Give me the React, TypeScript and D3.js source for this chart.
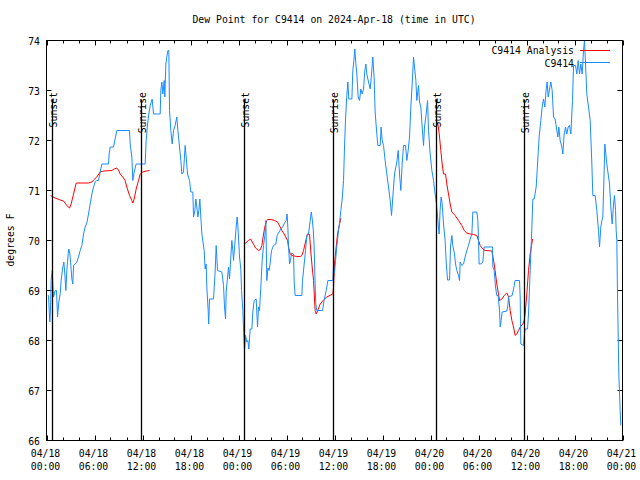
import React from "react";
import * as d3 from "d3";

const titleText = "Dew Point for C9414 on 2024-Apr-18 (time in UTC)";
const yLabelText = "degrees F";
const yTicks = [66, 67, 68, 69, 70, 71, 72, 73, 74];
const xTickHours = [0, 6, 12, 18, 24, 30, 36, 42, 48, 54, 60, 66, 72];
const xTickDates = ["04/18", "04/18", "04/18", "04/18", "04/19", "04/19", "04/19", "04/19", "04/20", "04/20", "04/20", "04/20", "04/21"];
const xTickTimes = ["00:00", "06:00", "12:00", "18:00", "00:00", "06:00", "12:00", "18:00", "00:00", "06:00", "12:00", "18:00", "00:00"];
const sunsetHours = [0.73, 24.73, 48.73];
const sunriseHours = [11.85, 35.85, 59.73];
const legendNames = ["C9414 Analysis", "C9414"];

// hours since 2024-04-18 00:00 UTC, dew point F
const observed: [number, number][] = [
  [0.15,68.9],[0.25,68.9],[0.33,68.63],[0.42,68.37],[0.5,68.63],[0.58,69.2],[0.72,69.4],[0.8,69.1],[0.88,68.87],[1.08,69.0],[1.25,69.0],[1.38,68.47],[1.54,68.77],[1.71,68.93],[1.83,69.2],[2.0,69.43],[2.17,69.57],[2.29,69.33],[2.42,69.0],[2.54,69.4],[2.71,69.73],[2.79,69.83],[2.92,69.73],[3.04,69.5],[3.17,69.23],[3.29,69.13],[3.38,69.5],[3.58,69.53],[3.79,69.57],[4.0,69.67],[4.21,69.8],[4.42,69.9],[4.63,70.13],[4.83,70.27],[5.04,70.35],[5.25,70.53],[5.46,70.73],[5.67,70.93],[5.88,71.07],[6.08,71.17],[6.29,71.2],[6.5,71.2],[6.71,71.37],[6.92,71.53],[7.75,71.53],[7.83,71.73],[7.96,71.87],[8.38,71.87],[8.58,72.03],[8.79,72.2],[10.38,72.2],[10.46,71.93],[10.67,71.67],[10.79,71.2],[10.96,71.37],[11.21,71.53],[12.33,71.53],[12.46,72.0],[12.63,72.33],[12.79,72.53],[12.96,72.7],[13.21,72.83],[13.38,72.53],[14.21,72.53],[14.29,73.0],[14.42,73.17],[14.54,72.93],[14.71,73.2],[14.79,72.87],[14.92,73.53],[15.04,73.67],[15.17,73.8],[15.29,73.8],[15.38,72.6],[15.54,72.2],[15.71,71.93],[15.88,72.2],[16.08,72.3],[16.29,72.47],[16.42,72.2],[16.63,71.87],[16.79,71.6],[16.92,71.33],[17.13,71.37],[17.33,71.9],[17.46,71.67],[17.63,71.33],[17.88,71.2],[18.04,70.97],[18.29,70.97],[18.38,70.47],[18.54,70.6],[18.67,70.83],[18.79,70.67],[18.92,70.47],[19.04,70.6],[19.17,70.83],[19.29,70.47],[19.42,70.13],
  [19.71,69.8],[19.83,69.43],[19.96,69.53],[20.04,69.07],[20.21,68.6],[20.27,68.33],[20.38,68.83],[20.88,68.83],[21.08,69.37],[21.21,69.9],[21.38,69.4],[21.92,69.37],[22.13,69.1],[22.25,68.67],[22.38,68.43],[22.46,68.97],[22.75,69.47],[22.88,69.23],[23.04,69.67],[23.17,70.0],[23.29,69.8],[23.38,69.6],[23.54,69.93],[23.71,70.27],[23.83,70.47],[23.92,70.3],[24.13,69.67],[24.29,69.43],[24.38,69.0],[24.54,68.6],[24.67,68.07],[24.75,67.8],[24.88,68.1],[25.04,67.97],[25.17,68.0],[25.29,67.83],[25.46,68.23],[25.67,68.23],[25.79,68.57],[25.96,68.8],[26.21,68.83],[26.38,68.27],[26.5,68.67],[26.63,68.6],[26.79,69.07],[26.96,69.6],[27.13,69.9],[27.29,70.1],[27.42,70.4],[27.54,69.2],[27.67,69.45],[27.83,69.4],[27.96,69.55],[28.13,69.8],[28.38,69.9],[28.67,69.93],[28.83,70.1],[29.17,70.2],[29.5,70.27],[29.75,70.35],[29.96,70.4],[30.08,70.53],[30.17,70.25],[30.25,69.9],[30.38,69.53],[30.5,69.6],[30.63,69.75],[30.88,69.73],[30.96,69.17],[31.08,68.9],[31.92,68.9],[32.0,69.2],[32.21,69.53],[32.38,69.8],[32.54,70.1],[32.75,70.13],[32.96,70.4],[33.1,70.57],[33.2,70.45],[33.35,70.2],[33.45,69.9],[33.55,69.3],[33.65,68.75],[33.79,68.6],[34.5,68.6],[34.7,68.8],[34.96,69.0],[35.17,69.2],[35.79,69.2],[35.88,69.47],[36.0,69.35],[36.13,69.6],[36.3,69.9],[36.5,70.2],[36.63,70.35],
  [36.79,70.6],[36.96,70.83],[37.13,71.2],[37.25,71.87],[37.38,72.43],[37.54,72.9],[37.67,73.17],[37.79,72.83],[38.17,72.83],[38.29,73.4],[38.42,73.6],[38.54,73.83],[38.67,73.53],[38.79,73.33],[38.96,72.87],[39.13,72.8],[39.29,73.03],[39.46,72.93],[39.63,73.03],[39.79,73.4],[39.92,73.53],[40.04,73.33],[40.25,73.17],[40.46,73.03],[40.63,73.33],[40.79,73.67],[40.96,73.23],[41.08,72.57],[41.29,72.13],[41.42,71.9],[41.71,71.9],[41.83,72.27],[41.96,72.0],[42.13,71.9],[42.33,71.6],[42.54,71.33],[42.75,71.07],[42.96,70.8],[43.13,70.5],[43.29,70.87],[43.5,71.33],[43.79,71.57],[43.96,71.8],[44.13,71.33],[44.29,71.0],[44.46,71.53],[44.63,71.9],[44.88,71.9],[45.04,71.6],[45.21,71.8],[45.38,72.07],[45.54,72.67],[45.71,73.13],[45.88,73.67],[46.0,73.47],[46.17,73.2],[46.29,72.8],[46.5,73.1],[46.63,72.77],[46.79,72.67],[46.96,72.27],[47.13,71.9],[47.25,72.27],[47.46,72.53],[47.63,72.8],[47.75,72.2],[47.96,71.73],[48.17,71.4],[48.38,71.2],[48.58,70.93],[48.75,70.73],[48.96,70.33],[49.08,70.13],[49.2,70.6],[49.33,70.87],[49.46,70.73],[49.63,70.33],[49.83,70.0],[49.96,69.57],[50.13,69.21],[50.38,69.21],[50.5,69.87],[50.67,70.1],[50.79,69.9],[51.0,69.73],[51.13,69.53],[51.29,69.4],[51.5,69.3],[51.63,69.2],[51.71,69.57],[51.92,69.5],[52.13,69.53],[52.33,69.67],[52.54,69.8],[52.75,69.9],[52.96,70.03],[53.17,70.13],[53.29,70.57],[53.79,70.57],[53.92,70.4],[54.0,70.0],[54.08,69.53],[54.29,69.53],[54.54,69.57],[54.71,69.87],[55.75,69.87],[55.79,69.47],[55.96,69.4],[56.13,69.07],[56.29,68.9],[56.46,68.9],[56.63,68.6],[56.71,68.27],[56.83,68.4],[56.96,68.57],[57.54,68.59],[57.67,68.7],[57.75,68.87],[58.21,68.9],[58.38,69.03],[58.58,69.2],[59.13,69.2],[59.21,68.87],[59.29,67.93],[59.63,67.9],[59.71,68.07],[59.83,68.23],[60.13,68.23],[60.25,68.53],[60.38,69.07],[60.54,69.73],[60.67,70.27],[60.79,70.83],[60.96,70.83],
  [61.21,71.07],[61.38,71.53],[61.58,72.07],[61.79,72.4],[61.96,72.67],[62.13,72.83],[62.29,72.67],[62.46,73.03],[62.58,73.17],[62.71,72.87],[62.88,73.03],[63.04,73.17],[63.21,73.0],[63.38,72.47],[63.58,72.43],[63.79,72.2],[63.92,72.07],[64.04,72.27],[64.21,72.0],[64.42,71.87],[64.54,71.73],[64.71,72.13],[64.88,72.27],[65.04,72.13],[65.21,72.27],[65.38,72.3],[65.54,72.13],[65.75,72.8],[65.88,73.5],[66.13,73.5],[66.29,73.33],[66.46,73.6],[66.63,73.33],[66.79,73.53],[66.96,73.33],[67.13,73.8],[67.25,74.0],[67.38,73.53],[67.54,72.93],[67.75,72.67],[67.96,72.4],[68.17,71.53],[68.29,70.9],[68.58,70.9],[68.79,70.6],[69.0,70.2],[69.13,69.87],[69.29,70.27],[69.42,70.4],[69.54,70.47],[69.71,71.4],[69.79,71.93],[69.92,71.73],[70.04,71.53],[70.21,71.33],[70.38,71.13],[70.54,70.67],[70.71,70.33],[70.88,70.73],[71.0,70.9],[71.13,70.6],[71.21,70.2],[71.29,70.0],[71.38,68.87],[71.54,67.33],[71.71,66.6],[71.79,66.3]
];

const analysisNight1: [number, number][] = [
  [0.5,70.9],[1.08,70.85],[1.71,70.81],[2.13,70.79],[2.54,70.7],[2.88,70.65],[3.08,70.73],[3.38,70.93],[3.71,71.15],[4.83,71.15],[5.25,71.15],[5.67,71.17],[5.88,71.21],[6.29,71.27],[6.71,71.37],[7.13,71.39],[8.17,71.4],[8.46,71.43],[8.79,71.45],[9.0,71.41],[9.21,71.33],[9.54,71.27],[9.83,71.2],[10.04,71.07],[10.38,70.9],[10.67,70.8],[10.79,70.75],[10.96,70.83],[11.21,71.03],[11.5,71.2],[11.71,71.33],[12.04,71.37],[12.46,71.39],[12.88,71.4]
];
const analysisNight2: [number, number][] = [
  [24.73,69.93],[25.25,70.0],[25.5,70.03],[25.8,69.95],[26.13,69.85],[26.5,69.8],[26.75,69.82],[26.92,69.9],[27.13,70.13],[27.33,70.3],[27.54,70.4],[27.67,70.42],[28.1,70.42],[28.5,70.4],[28.88,70.37],[29.21,70.27],[29.42,70.2],[29.71,70.13],[30.13,70.0],[30.25,69.87],[30.46,69.73],[30.67,69.7],[31.29,69.68],[31.71,69.68],[31.92,69.7],[32.13,69.8],[32.46,70.03],[32.63,70.13],[32.88,70.12],[33.04,69.77],[33.21,69.47],[33.38,69.2],[33.58,68.6],[33.71,68.53],[33.9,68.6],[34.21,68.73],[34.63,68.81],[35.04,68.87],[35.79,68.93],[35.88,69.07],[36.0,69.53],[36.21,69.87],[36.38,70.13],[36.63,70.33],[36.8,70.45]
];
const analysisNight3: [number, number][] = [
  [48.73,72.41],[48.96,72.3],[49.13,72.07],[49.29,71.8],[49.46,71.53],[49.63,71.33],[49.88,71.33],[50.04,71.13],[50.25,70.93],[50.46,70.73],[50.67,70.57],[51.08,70.5],[51.5,70.4],[51.92,70.3],[52.21,70.2],[52.54,70.15],[52.96,70.13],[53.38,70.12],[53.79,70.1],[54.0,70.0],[54.21,69.9],[54.54,69.83],[54.83,69.8],[55.67,69.79],[55.96,69.53],[56.13,69.33],[56.29,69.13],[56.5,68.93],[56.63,68.8],[56.92,68.83],[57.21,68.9],[57.54,68.95],[57.75,68.88],[57.96,68.6],[58.17,68.4],[58.38,68.27],[58.58,68.1],[58.79,68.13],[59.0,68.2],[59.21,68.27],[59.54,68.33],[59.71,68.4],[59.83,68.53],[60.04,68.93],[60.25,69.4],[60.46,69.73],[60.63,69.9],[60.75,70.03]
];

const RED = "#ff0000";
const BLUE = "#1a8cff";
const FONT = "'DejaVu Sans Mono', monospace";
const CH = 5.9;

function T(props: any) {
  const { x, y, text, anchor = "start", rotate = 0 } = props;
  const tr = rotate ? `rotate(${rotate} ${x} ${y})` : undefined;
  return (
    <text x={x} y={y} fontFamily={FONT} fontSize={11} fill="#000" textAnchor={anchor}
      textLength={text.length * CH} lengthAdjust="spacingAndGlyphs" transform={tr}>{text}</text>
  );
}

export default function App() {
  const x = d3.scaleLinear().domain([0, 72]).range([46.5, 622.5]);
  const y = d3.scaleLinear().domain([66, 74]).range([440.5, 40.5]);
  const line = d3.line<[number, number]>().x(d => x(d[0])).y(d => y(d[1]));
  const minorHours = d3.range(2, 72, 2).filter(h => h % 6 !== 0);
  const [x0, x1] = x.range();
  const [yb, yt] = y.range();
  const eventTop = y(72.82);
  const events = [
    ...sunsetHours.map(h => ({ h, label: "Sunset" })),
    ...sunriseHours.map(h => ({ h, label: "Sunrise" })),
  ];
  return (
    <svg width={640} height={480} style={{ position: "absolute", left: 0, top: 0, background: "#fff" }}>
      <rect x={0} y={0} width={640} height={480} fill="#fff" />
      <T x={334} y={23} text={titleText} anchor="middle" />
      {/* ticks */}
      <g stroke="#000" strokeWidth={1}>
        {xTickHours.map(h => (
          <g key={"M" + h}>
            <line x1={Math.round(x(h)) + 0.5} x2={Math.round(x(h)) + 0.5} y1={yb} y2={yb - 5} />
            <line x1={Math.round(x(h)) + 0.5} x2={Math.round(x(h)) + 0.5} y1={yt} y2={yt + 5} />
          </g>
        ))}
        {minorHours.map(h => (
          <g key={"m" + h}>
            <line x1={Math.round(x(h)) + 0.5} x2={Math.round(x(h)) + 0.5} y1={yb} y2={yb - 3} />
            <line x1={Math.round(x(h)) + 0.5} x2={Math.round(x(h)) + 0.5} y1={yt} y2={yt + 3} />
          </g>
        ))}
        {yTicks.map(v => (
          <g key={"y" + v}>
            <line x1={x0} x2={x0 + 5} y1={y(v)} y2={y(v)} />
            <line x1={x1} x2={x1 - 5} y1={y(v)} y2={y(v)} />
          </g>
        ))}
      </g>
      {yTicks.map(v => (
        <T key={"yl" + v} x={40} y={y(v) + 4} text={String(v)} anchor="end" />
      ))}
      {xTickHours.map((h, i) => (
        <g key={"xl" + h}>
          <T x={x(h) - 1} y={457} text={xTickDates[i]} anchor="middle" />
          <T x={x(h) - 1} y={470} text={xTickTimes[i]} anchor="middle" />
        </g>
      ))}
      <T x={14} y={240} text={yLabelText} anchor="middle" rotate={-90} />
      {/* data */}
      <g fill="none" strokeWidth={1}>
        <path d={line(analysisNight1) || ""} stroke={RED} />
        <path d={line(analysisNight2) || ""} stroke={RED} />
        <path d={line(analysisNight3) || ""} stroke={RED} />
        <path d={line(observed) || ""} stroke={BLUE} />
      </g>
      {/* sunrise / sunset */}
      {events.map(e => {
        const ex = Math.round(x(e.h)) + 0.5;
        return (
          <g key={e.label + e.h}>
            <line x1={ex} x2={ex} y1={yb} y2={eventTop} stroke="#000" strokeWidth={1.3} />
            <T x={ex + 4.5} y={92} text={e.label} anchor="end" rotate={-90} />
          </g>
        );
      })}
      {/* legend */}
      <T x={574} y={54} text={legendNames[0]} anchor="end" />
      <line x1={580} x2={610} y1={50.5} y2={50.5} stroke={RED} strokeWidth={1} />
      <T x={574} y={66.5} text={legendNames[1]} anchor="end" />
      <line x1={580} x2={610} y1={62.5} y2={62.5} stroke={BLUE} strokeWidth={1} />
      {/* frame */}
      <rect x={x0} y={yt} width={x1 - x0} height={yb - yt} fill="none" stroke="#000" strokeWidth={1} />
    </svg>
  );
}
